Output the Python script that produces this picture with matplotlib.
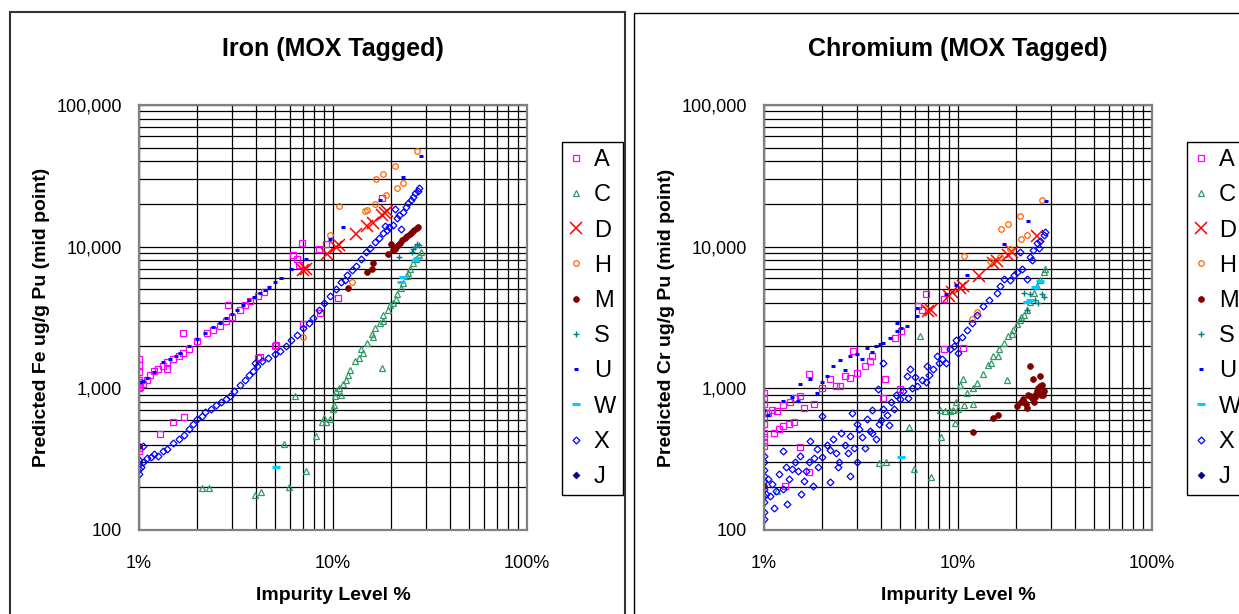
import numpy as np
import matplotlib
matplotlib.use("Agg")
import matplotlib.pyplot as plt
from matplotlib.patches import Rectangle
from matplotlib.ticker import FixedLocator, FuncFormatter, LogLocator, NullFormatter

plt.rcParams['font.family'] = ['Liberation Sans', 'DejaVu Sans']

# series names shown in the legend
series_names = ["A", "C", "D", "H", "M", "S", "U", "W", "X", "J"]

# ---------------- Iron (Fe) : (impurity %, predicted ug/g) ----------------
fe_A = [(1.0, 1000), (1.0, 1050), (1.0, 1100), (1.0, 1150), (1.0, 1300), (1.0, 1450),
        (1.0, 1600), (1.0, 380), (1.0, 360), (1.01, 1020), (1.05, 1080), (1.1, 1150),
        (1.14, 1250), (1.2, 1320), (1.25, 1380), (1.33, 1430), (1.39, 1380), (1.4, 1530),
        (1.5, 1620), (1.6, 1700), (1.69, 1790), (1.8, 1900), (2.0, 2150), (2.23, 2450),
        (2.4, 2600), (2.61, 2750), (2.8, 3000), (3.0, 3200), (3.3, 3600), (3.5, 3850),
        (3.74, 4130), (4.1, 4500), (4.4, 4800), (1.68, 2440), (2.88, 3900), (1.5, 574),
        (1.71, 628), (1.28, 473), (4.1, 1640), (4.2, 1660), (5.0, 2000), (5.1, 2020),
        (7.0, 2830), (10.6, 4340), (8.6, 3400), (6.9, 10700), (6.2, 8790), (6.5, 8150),
        (6.7, 7470), (9.2, 10500), (8.5, 9700), (17.8, 22000)]
fe_C = [(8.2, 460), (9.6, 605), (10.0, 710), (10.1, 760), (10.4, 955), (10.2, 880),
        (10.8, 1000), (11.2, 1080), (11.7, 1150), (12.3, 1350), (13.0, 1550), (13.6, 1650),
        (14.3, 1790), (15.0, 2100), (15.8, 2400), (16.5, 2650), (17.4, 2900), (18.2, 3300),
        (19.2, 3600), (20.4, 4020), (21.5, 4600), (22.3, 5100), (23.0, 5550), (24.0, 6200),
        (25.0, 6900), (25.9, 7660), (26.8, 8200), (27.9, 8770), (28.3, 9200), (17.8, 1400),
        (6.4, 883), (5.6, 407), (7.3, 262), (5.95, 200), (2.1, 197), (2.3, 197), (3.96, 176),
        (4.25, 184), (8.8, 580), (9.2, 580), (9.0, 620), (11.0, 900), (12.0, 1250),
        (14.0, 1900), (16.0, 2300), (18.0, 3000), (21.0, 4300), (24.5, 6500), (19.7, 3900)]
fe_D = [(7.0, 6850), (7.3, 7000), (9.3, 8900), (10.4, 10000), (10.7, 10300), (13.1, 12300),
        (14.9, 14000), (16.0, 14800), (17.8, 16700), (18.5, 17300), (18.9, 17800)]
fe_H = [(27.0, 47500), (20.8, 37300), (18.0, 32600), (16.7, 30000), (23.0, 28000),
        (21.3, 25900), (18.7, 23100), (16.5, 20100), (14.9, 18100), (14.6, 17800),
        (10.8, 19400), (9.7, 12000), (12.5, 5600), (7.0, 2300)]
fe_M = [(1.0, 392), (12.0, 5130), (15.0, 6600), (15.9, 7000), (16.1, 7650), (19.3, 8900),
        (20.4, 9500), (21.0, 9900), (21.6, 10300), (22.2, 10700), (22.8, 11100), (23.5, 11500),
        (24.2, 11900), (24.9, 12300), (25.6, 12700), (26.3, 13100), (27.0, 13500),
        (27.5, 13800), (20.0, 10400), (20.8, 9700)]
fe_S = [(22.0, 8430), (25.9, 9600), (27.2, 10500), (26.5, 9900), (27.8, 10200), (25.5, 9200)]
fe_U = [(1.02, 1100), (1.05, 1120), (1.1, 1180), (1.2, 1300), (1.33, 1530), (1.45, 1600),
        (1.55, 1700), (1.63, 1790), (1.8, 2000), (1.98, 2240), (2.2, 2450), (2.4, 2700),
        (2.6, 2900), (2.8, 3150), (3.0, 3350), (3.2, 3600), (3.45, 3900), (3.7, 4200),
        (3.9, 4400), (4.2, 4700), (4.45, 4950), (4.7, 5200), (5.0, 5600), (5.4, 6000),
        (6.1, 7000), (7.3, 8240), (9.6, 11400), (11.2, 13800), (17.4, 21400), (23.0, 31000),
        (28.5, 44000)]
fe_W = [(5.1, 279), (23.0, 6100), (22.5, 5600), (26.4, 8100), (27.0, 8300)]
fe_X = [(1.0, 250), (1.0, 270), (1.0, 290), (1.0, 310), (1.02, 280), (1.05, 300), (1.05, 390),
        (1.1, 320), (1.15, 330), (1.2, 345), (1.25, 335), (1.33, 361), (1.4, 375), (1.5, 410),
        (1.6, 440), (1.7, 470), (1.8, 520), (1.9, 560), (1.98, 605), (2.1, 640), (2.2, 680),
        (2.35, 720), (2.5, 760), (2.65, 800), (2.8, 840), (2.94, 883), (3.1, 950), (3.3, 1050),
        (3.5, 1150), (3.7, 1250), (3.85, 1330), (3.96, 1520), (4.04, 1430), (4.3, 1560),
        (4.6, 1650), (5.0, 1750), (5.33, 1830), (5.7, 2000), (6.1, 2200), (6.5, 2390),
        (7.0, 2650), (7.5, 2900), (7.9, 3150), (8.5, 3600), (9.0, 4000), (9.6, 4500),
        (10.4, 4990), (11.0, 5600), (11.5, 5800), (11.8, 6300), (12.5, 6800), (13.2, 7260),
        (14.0, 8200), (14.8, 9100), (15.5, 9810), (16.5, 10800), (17.3, 11600), (18.1, 12400),
        (18.5, 14000), (19.0, 13200), (19.5, 13700), (20.4, 14200), (20.9, 18300),
        (21.5, 16000), (22.0, 16600), (22.4, 13300), (23.0, 17500), (23.8, 19000),
        (24.5, 20500), (25.3, 21500), (25.9, 22500), (26.6, 23800), (27.3, 24800),
        (27.9, 25900)]
fe_J = []

# ---------------- Chromium (Cr) : (impurity %, predicted ug/g) ----------------
cr_A = [(1.0, 931), (1.0, 850), (1.0, 780), (1.0, 673), (1.0, 620), (1.0, 560), (1.0, 487),
        (1.0, 450), (1.0, 420), (1.0, 393), (1.05, 670), (1.1, 700), (1.16, 693), (1.25, 760),
        (1.36, 795), (1.45, 850), (1.53, 880), (1.42, 574), (1.26, 544), (1.12, 487),
        (1.2, 520), (1.35, 560), (1.6, 730), (1.8, 770), (1.7, 1260), (2.0, 1000),
        (2.19, 1160), (2.35, 1040), (2.47, 1040), (2.6, 1220), (2.77, 1190), (3.0, 1290),
        (2.88, 1840), (3.3, 1430), (3.51, 1550), (3.59, 1690), (4.2, 1170), (4.73, 2260),
        (5.1, 2550), (6.24, 3840), (6.5, 3580), (6.8, 4650), (8.5, 4240), (8.5, 1880),
        (10.6, 1940), (5.0, 997), (4.12, 860), (1.71, 255), (1.28, 205), (1.53, 383)]
cr_C = [(9.1, 693), (9.8, 795), (11.1, 930), (12.5, 1090), (13.5, 1260), (14.3, 1450),
        (15.2, 1690), (16.2, 1900), (17.2, 2090), (18.2, 2350), (19.2, 2600), (20.1, 2850),
        (20.9, 3060), (21.8, 3300), (22.6, 3600), (23.6, 4100), (24.6, 4700), (25.5, 5300),
        (26.5, 5860), (27.6, 6670), (28.0, 6900), (6.4, 2340), (10.6, 1170), (10.2, 1050),
        (10.8, 760), (11.9, 770), (17.8, 1140), (8.1, 700), (8.6, 690), (9.6, 567), (5.6, 530),
        (8.2, 450), (3.9, 297), (4.25, 303), (5.9, 268), (7.3, 235), (1.17, 187), (10.0, 720),
        (9.4, 700), (12.0, 1000), (14.8, 1500), (16.0, 1700), (19.0, 2400), (21.0, 3200)]
cr_D = [(7.0, 3500), (7.3, 3600), (9.0, 4500), (9.3, 4800), (10.3, 5100), (10.6, 5300),
        (12.9, 6200), (15.2, 7700), (15.8, 7900), (18.1, 8800), (18.9, 9200), (25.4, 11800)]
cr_H = [(27.0, 21200), (20.8, 16500), (18.0, 14500), (16.6, 13300), (22.8, 12100),
        (21.2, 11300), (18.5, 9600), (16.4, 8500), (14.7, 7900), (10.7, 8600), (11.8, 3100),
        (12.5, 3450)]
cr_M = [(1.0, 205), (23.5, 1440), (24.3, 1160), (26.5, 1230), (26.5, 1040), (25.4, 960),
        (26.8, 900), (23.5, 880), (21.7, 840), (21.0, 795), (20.1, 750), (22.6, 730),
        (24.6, 795), (26.1, 930), (27.6, 950), (27.3, 900), (16.1, 645), (15.2, 613),
        (12.0, 493), (22.0, 800), (23.0, 900), (24.0, 850), (25.0, 900), (25.8, 1000),
        (27.0, 1050), (22.5, 780), (24.8, 870)]
cr_S = [(21.9, 4700), (24.9, 4230), (27.6, 4380), (23.5, 4600), (22.6, 3600), (25.7, 4000),
        (27.0, 4600)]
cr_U = [(1.0, 700), (1.05, 650), (1.26, 814), (1.4, 870), (1.5, 814), (1.53, 1070),
        (1.73, 1160), (1.87, 930), (2.0, 1100), (2.1, 1220), (2.28, 1440), (2.47, 1590),
        (2.6, 1350), (2.77, 1690), (3.0, 1740), (3.2, 1600), (3.38, 1940), (3.6, 1800),
        (3.8, 1990), (3.96, 2040), (4.1, 2100), (4.45, 2260), (4.83, 2550), (4.83, 2900),
        (5.1, 2650), (5.43, 2770), (6.12, 3690), (6.12, 3230), (8.7, 4600), (9.8, 5400),
        (11.1, 6340), (17.2, 10500), (23.0, 15300), (28.5, 21000)]
cr_W = [(5.1, 328), (26.5, 5700), (22.8, 4060), (23.5, 4200), (25.0, 5200)]
cr_X = [(1.0, 119), (1.0, 135), (1.0, 157), (1.0, 175), (1.0, 195), (1.0, 220), (1.0, 240),
        (1.0, 264), (1.0, 300), (1.0, 334), (1.02, 180), (1.05, 230), (1.07, 174), (1.12, 144),
        (1.1, 210), (1.15, 190), (1.2, 250), (1.26, 195), (1.26, 363), (1.3, 280), (1.31, 152),
        (1.35, 230), (1.4, 270), (1.45, 300), (1.5, 260), (1.53, 334), (1.56, 179), (1.6, 220),
        (1.65, 260), (1.7, 300), (1.73, 425), (1.79, 205), (1.8, 320), (1.87, 372), (1.9, 280),
        (1.98, 636), (2.0, 330), (2.1, 400), (2.19, 217), (2.2, 370), (2.28, 437), (2.35, 350),
        (2.4, 280), (2.45, 300), (2.5, 480), (2.6, 400), (2.7, 350), (2.77, 461), (2.77, 241),
        (2.83, 674), (2.9, 380), (3.0, 300), (3.0, 560), (3.1, 520), (3.2, 450), (3.3, 380),
        (3.38, 605), (3.5, 500), (3.6, 700), (3.6, 480), (3.8, 437), (3.88, 985), (3.9, 560),
        (4.0, 600), (4.12, 711), (4.12, 1520), (4.3, 650), (4.4, 550), (4.5, 800), (4.7, 720),
        (4.8, 900), (5.02, 837), (5.2, 950), (5.43, 1220), (5.5, 850), (5.66, 1360),
        (5.8, 1000), (6.0, 1200), (6.12, 1040), (6.5, 1150), (6.8, 1100), (6.9, 1430),
        (7.1, 1250), (7.46, 1360), (7.8, 1700), (8.0, 1500), (8.3, 1600), (8.7, 1520),
        (9.1, 1880), (9.5, 2000), (9.8, 2200), (10.0, 1790), (10.5, 2300), (11.1, 2600),
        (11.8, 2900), (12.5, 3300), (13.5, 3800), (14.5, 4200), (15.8, 4700), (16.5, 5300),
        (17.2, 5960), (18.6, 5860), (19.5, 6300), (20.1, 6600), (20.9, 9200), (21.5, 7000),
        (22.6, 5900), (23.5, 8500), (24.0, 8000), (24.5, 9500), (25.4, 10600), (26.0, 9800),
        (26.5, 11000), (27.6, 12100), (28.0, 12600)]
cr_J = []

# ---------------- styles ----------------
styles = {
    "A": dict(marker="s", color="#FF00FF", mfc="none", ms=4, mew=0.9),
    "C": dict(marker="^", color="#339966", mfc="none", ms=4, mew=0.9),
    "D": dict(marker="x", color="#FF0000", ms=8, mew=1.1),
    "H": dict(marker="o", color="#FF6600", mfc="none", ms=4, mew=0.9),
    "M": dict(marker="o", color="#800000", ms=4.2, mew=0.5),
    "S": dict(marker="+", color="#008080", ms=5, mew=1.0),
    "U": dict(marker="_", color="#0000FF", ms=3.5, mew=2.2),
    "W": dict(marker="_", color="#00CCFF", ms=5.5, mew=2.2),
    "X": dict(marker="D", color="#0000FF", mfc="none", ms=3.5, mew=0.9),
    "J": dict(marker="D", color="#000080", ms=3.5, mew=0.5),
}

W, H = 1239, 614
fig = plt.figure(figsize=(W / 100, H / 100), dpi=100)

# outer chart borders
fig.add_artist(Rectangle((10 / W, -0.1), 615 / W, 1.1 - 12 / H, transform=fig.transFigure,
                         fill=False, ec="#333333", lw=1.5))
fig.add_artist(Rectangle((634 / W, -0.1), 0.6, 1.1 - 13 / H, transform=fig.transFigure,
                         fill=False, ec="black", lw=1.0))


def y_fmt(v, pos):
    return f"{int(round(v)):,}"


def x_fmt(v, pos):
    return f"{int(round(v))}%"


def draw_panel(left_px, title, ylabel, data, legend_px):
    ax = fig.add_axes([left_px / W, 1 - 530 / H, 388 / W, 425 / H])
    ax.set_xscale("log")
    ax.set_yscale("log")
    ax.set_xlim(1, 100)
    ax.set_ylim(100, 100000)

    for name in series_names:
        pts = np.array(data[name], dtype=float).reshape(-1, 2)
        ax.plot(pts[:, 0], pts[:, 1], linestyle="none", label=name, **styles[name])

    ax.xaxis.set_major_locator(FixedLocator([1, 10, 100]))
    ax.yaxis.set_major_locator(FixedLocator([100, 1000, 10000, 100000]))
    ax.xaxis.set_minor_locator(LogLocator(base=10, subs=np.arange(2, 10)))
    ax.yaxis.set_minor_locator(LogLocator(base=10, subs=np.arange(2, 10)))
    ax.xaxis.set_major_formatter(FuncFormatter(x_fmt))
    ax.yaxis.set_major_formatter(FuncFormatter(y_fmt))
    ax.xaxis.set_minor_formatter(NullFormatter())
    ax.yaxis.set_minor_formatter(NullFormatter())
    ax.tick_params(which="both", length=0, labelsize=13)
    ax.tick_params(axis="y", pad=12)
    ax.tick_params(axis="x", pad=18)
    ax.grid(which="both", color="black", lw=0.9)
    ax.set_axisbelow(True)
    for sp in ax.spines.values():
        sp.set_color("#808080")
        sp.set_linewidth(1.6)

    ax.set_title(title, fontsize=18, fontweight="bold", pad=35)
    ax.set_ylabel(ylabel, fontsize=14, fontweight="bold", labelpad=5)
    ax.set_xlabel("Impurity Level %", fontsize=14, fontweight="bold", labelpad=11)

    leg = ax.legend(loc="upper left", bbox_to_anchor=(legend_px / W, 1 - 142 / H),
                    bbox_transform=fig.transFigure, borderaxespad=0, fontsize=17,
                    numpoints=1, handlelength=0.6, handletextpad=0.45, borderpad=0.3,
                    labelspacing=0.56, fancybox=False, edgecolor="black", framealpha=1)
    leg.get_frame().set_linewidth(1.0)
    return ax


fe_data = {"A": fe_A, "C": fe_C, "D": fe_D, "H": fe_H, "M": fe_M, "S": fe_S,
           "U": fe_U, "W": fe_W, "X": fe_X, "J": fe_J}
cr_data = {"A": cr_A, "C": cr_C, "D": cr_D, "H": cr_H, "M": cr_M, "S": cr_S,
           "U": cr_U, "W": cr_W, "X": cr_X, "J": cr_J}

draw_panel(139, "Iron (MOX Tagged)", "Predicted Fe ug/g Pu (mid point)", fe_data, 562)
draw_panel(764, "Chromium (MOX Tagged)", "Predicted Cr ug/g Pu (mid point)", cr_data, 1187)

fig.savefig("out.png", dpi=100)
